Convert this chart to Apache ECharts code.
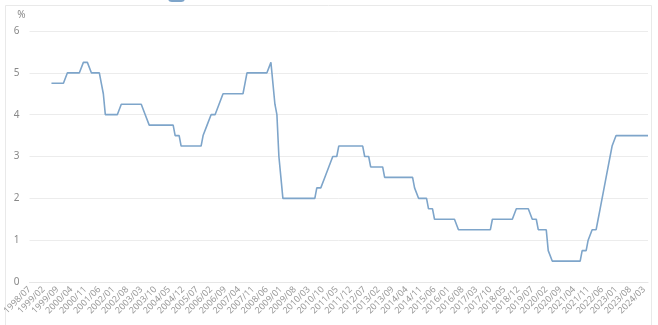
<!DOCTYPE html>
<html>
<head>
<meta charset="utf-8">
<script src="https://cdn.jsdelivr.net/npm/echarts@6/dist/echarts.min.js"></script>
<style>
html,body{margin:0;padding:0;background:#fff;}
#chart{width:658px;height:325px;}
</style>
</head>
<body>
<div id="chart"></div>
<script>
// Monthly categories from 1998/07 to 2024/05
var startYear = 1998, startMonth = 7, monthCount = 311;
var categories = [];
for (var i = 0; i < monthCount; i++) {
  var mm = startMonth - 1 + i;
  var y = startYear + Math.floor(mm / 12);
  var m = (mm % 12) + 1;
  categories.push(y + '/' + (m < 10 ? '0' + m : m));
}

var seriesName = '韩国:基准利率';
// Month-end policy rate (%)
var rate = [
  /*1998 07-12*/ null,null,null,null,null,null,
  /*1999*/ null,null,null,null,null,4.75,4.75,4.75,4.75,4.75,4.75,4.75,
  /*2000*/ 4.75,5,5,5,5,5,5,5,5,5.25,5.25,5.25,
  /*2001*/ 5.25,5,5,5,5,5,4.75,4.5,4,4,4,4,
  /*2002*/ 4,4,4,4,4.25,4.25,4.25,4.25,4.25,4.25,4.25,4.25,
  /*2003*/ 4.25,4.25,4.25,4.25,4,4,3.75,3.75,3.75,3.75,3.75,3.75,
  /*2004*/ 3.75,3.75,3.75,3.75,3.75,3.75,3.75,3.5,3.5,3.5,3.25,3.25,
  /*2005*/ 3.25,3.25,3.25,3.25,3.25,3.25,3.25,3.25,3.25,3.5,3.5,3.75,
  /*2006*/ 3.75,4,4,4,4,4.25,4.25,4.5,4.5,4.5,4.5,4.5,
  /*2007*/ 4.5,4.5,4.5,4.5,4.5,4.5,4.75,5,5,5,5,5,
  /*2008*/ 5,5,5,5,5,5,5,5.25,5.25,4.25,4,3,
  /*2009*/ 2.5,2,2,2,2,2,2,2,2,2,2,2,
  /*2010*/ 2,2,2,2,2,2,2.25,2.25,2.25,2.25,2.5,2.5,
  /*2011*/ 2.75,2.75,3,3,3,3.25,3.25,3.25,3.25,3.25,3.25,3.25,
  /*2012*/ 3.25,3.25,3.25,3.25,3.25,3.25,3,3,3,2.75,2.75,2.75,
  /*2013*/ 2.75,2.75,2.75,2.75,2.5,2.5,2.5,2.5,2.5,2.5,2.5,2.5,
  /*2014*/ 2.5,2.5,2.5,2.5,2.5,2.5,2.5,2.25,2.25,2,2,2,
  /*2015*/ 2,2,1.75,1.75,1.75,1.5,1.5,1.5,1.5,1.5,1.5,1.5,
  /*2016*/ 1.5,1.5,1.5,1.5,1.5,1.25,1.25,1.25,1.25,1.25,1.25,1.25,
  /*2017*/ 1.25,1.25,1.25,1.25,1.25,1.25,1.25,1.25,1.25,1.25,1.5,1.5,
  /*2018*/ 1.5,1.5,1.5,1.5,1.5,1.5,1.5,1.5,1.5,1.5,1.75,1.75,
  /*2019*/ 1.75,1.75,1.75,1.75,1.75,1.75,1.5,1.5,1.5,1.25,1.25,1.25,
  /*2020*/ 1.25,1.25,0.75,0.75,0.5,0.5,0.5,0.5,0.5,0.5,0.5,0.5,
  /*2021*/ 0.5,0.5,0.5,0.5,0.5,0.5,0.5,0.75,0.75,0.75,1,1,
  /*2022*/ 1.25,1.25,1.25,1.5,1.75,1.75,2.25,2.5,2.5,3,3.25,3.25,
  /*2023*/ 3.5,3.5,3.5,3.5,3.5,3.5,3.5,3.5,3.5,3.5,3.5,3.5,
  /*2024 01-05*/ 3.5,3.5,3.5,3.5,3.5
];
var yTicks = [0, 1, 2, 3, 4, 5, 6];

var chart = echarts.init(document.getElementById('chart'), null, {renderer: 'canvas'});
chart.setOption({
  animation: false,
  backgroundColor: '#ffffff',
  textStyle: {fontFamily: '"Noto Sans", "Noto Sans CJK SC", sans-serif'},
  graphic: [{
    type: 'rect',
    silent: true,
    shape: {x: 5.5, y: 5.5, width: 646, height: 400},
    style: {fill: 'none', stroke: '#e9e9e9', lineWidth: 1}
  }],
  legend: {
    show: true,
    top: -18,
    left: 163,
    padding: 5,
    icon: 'roundRect',
    itemWidth: 17,
    itemHeight: 15,
    textStyle: {fontSize: 11, color: '#666'},
    data: [seriesName]
  },
  grid: {left: 24, right: 10, top: 31, bottom: 43, containLabel: false},
  xAxis: {
    type: 'category',
    boundaryGap: false,
    data: categories,
    axisLine: {show: true, lineStyle: {color: '#e6e6e6'}},
    axisTick: {show: false},
    axisLabel: {
      interval: 6,
      rotate: 45,
      fontSize: 9,
      color: '#9a9a9a',
      margin: 6
    },
    splitLine: {show: false}
  },
  yAxis: {
    type: 'value',
    min: yTicks[0],
    max: yTicks[yTicks.length - 1],
    interval: 1,
    name: '%',
    nameLocation: 'end',
    nameGap: 11,
    nameTextStyle: {fontSize: 10, color: '#888', align: 'right', padding: [0, 4, 0, 0]},
    axisLine: {show: false},
    axisTick: {show: false},
    axisLabel: {fontSize: 10, color: '#888', margin: 10},
    splitLine: {lineStyle: {color: '#ececec'}}
  },
  series: [{
    name: seriesName,
    type: 'line',
    data: rate,
    showSymbol: false,
    connectNulls: false,
    lineStyle: {color: '#7ea5ca', width: 1.6},
    itemStyle: {color: '#7ea5ca'}
  }]
});
</script>
</body>
</html>
